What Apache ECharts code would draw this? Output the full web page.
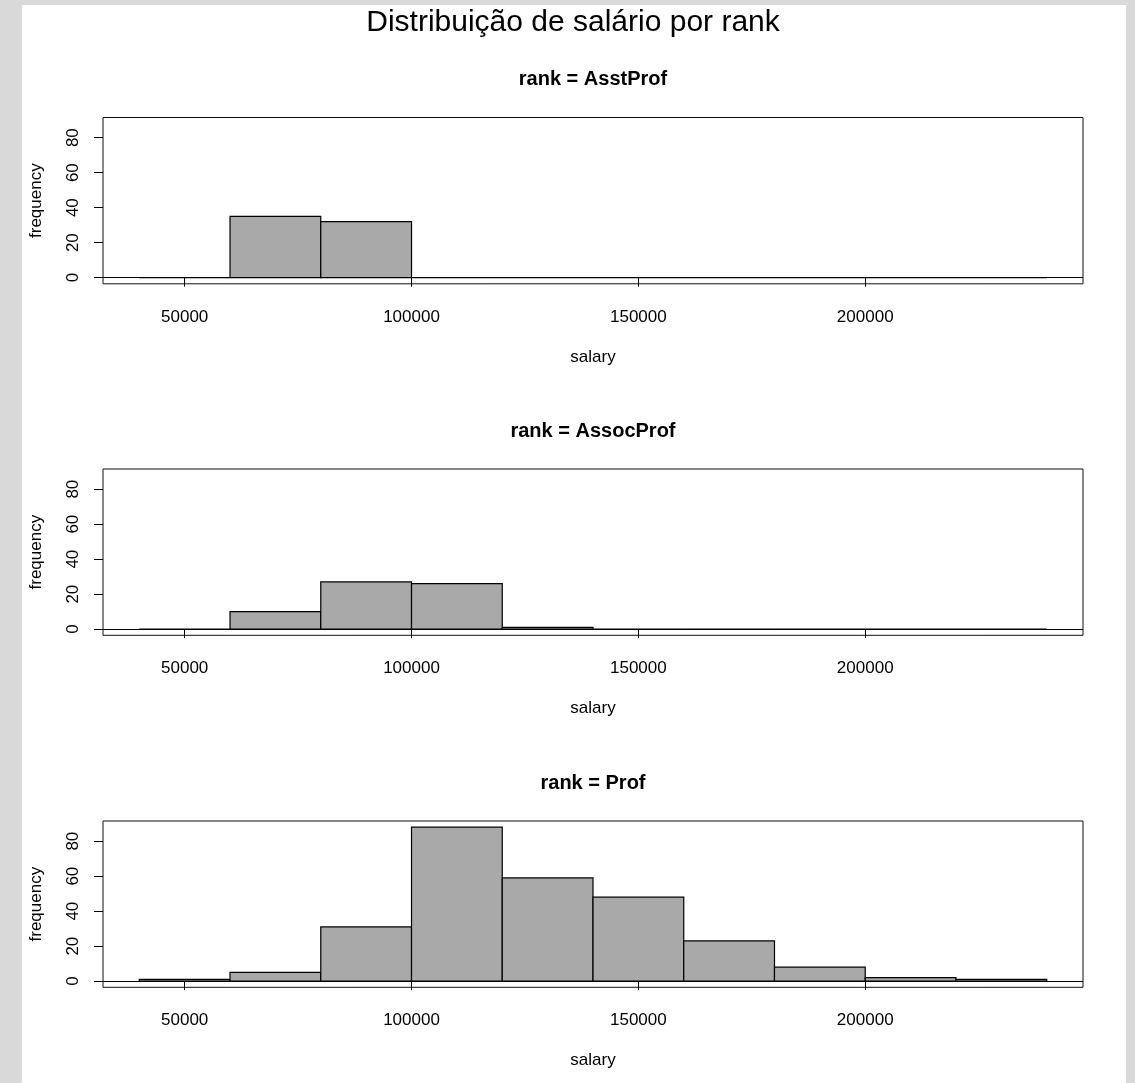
<!DOCTYPE html>
<html lang="pt">
<head>
    <meta charset="UTF-8">
    <script src="https://cdn.jsdelivr.net/npm/echarts@6/dist/echarts.min.js"></script>
    <style>
        body, html {
            margin: 0;
            height: 100%;
            background: #d9d9d9;
        }

        #sheet {
            position: absolute;
            left: 22px;
            top: 5px;
            width: 1104px;
            height: 1078px;
            background: #ffffff;
        }

        #main {
            position: absolute;
            left: 0;
            top: 0;
            width: 1135px;
            height: 1083px;
        }
    </style>
    <title>Distribuição de salário por rank</title>
</head>
<body>

<div id="sheet"></div>
<div id="main"></div>
<script type="text/javascript">
    const myChart = echarts.init(document.getElementById('main'));

    // limites das classes do histograma (salary)
    const breaks = [40000, 60000, 80000, 100000, 120000, 140000, 160000, 180000, 200000, 220000, 240000];
    // contagens por classe, uma lista por rank
    const asstProf = [0, 35, 32, 0, 0, 0, 0, 0, 0, 0];
    const assocProf = [0, 10, 27, 26, 1, 0, 0, 0, 0, 0];
    const prof = [1, 5, 31, 88, 59, 48, 23, 8, 2, 1];

    const ranks = ['AsstProf', 'AssocProf', 'Prof'];
    const counts = [asstProf, assocProf, prof];
    const xTicks = [50000, 100000, 150000, 200000];
    const yTicks = [0, 20, 40, 60, 80];

    const font = "'Liberation Sans', Arial, sans-serif";
    const gridTops = [117.5, 469, 821];
    const gridH = 166.3;

    const toBins = function (c) {
        var res = [];
        for (var i = 0; i < c.length; i++) {
            res.push([breaks[i], breaks[i + 1], c[i]]);
        }
        return res;
    };

    const grids = [], xAxes = [], yAxes = [], series = [], texts = [];

    texts.push({
        type: 'text', x: 573, y: 23,
        style: {text: 'Distribuição de salário por rank', font: '30px ' + font, fill: '#000', align: 'center', verticalAlign: 'middle'}
    });

    ranks.forEach(function (r, i) {
        grids.push({
            left: 103, width: 980, top: gridTops[i], height: gridH,
            show: true, borderColor: '#111', borderWidth: 1, backgroundColor: 'transparent'
        });
        xAxes.push({
            type: 'value', gridIndex: i, min: 32000, max: 248000,
            name: 'salary', nameLocation: 'middle', nameGap: 65,
            nameTextStyle: {color: '#000', fontSize: 17, fontFamily: font},
            splitLine: {show: false},
            axisLine: {show: false},
            axisTick: {show: true, customValues: xTicks, length: 9, lineStyle: {color: '#000'}},
            axisLabel: {
                customValues: xTicks, margin: 25, color: '#000', fontSize: 17, fontFamily: font,
                formatter: function (v) { return String(v); }
            }
        });
        yAxes.push({
            type: 'value', gridIndex: i, min: -3.52, max: 91.52,
            name: 'frequency', nameLocation: 'middle', nameGap: 58,
            nameTextStyle: {color: '#000', fontSize: 17, fontFamily: font},
            splitLine: {show: false},
            axisLine: {show: false},
            axisTick: {show: true, customValues: yTicks, length: 9, lineStyle: {color: '#000'}},
            axisLabel: {customValues: yTicks, rotate: 90, margin: 21, color: '#000', fontSize: 17, fontFamily: font}
        });
        series.push({
            type: 'custom', xAxisIndex: i, yAxisIndex: i,
            data: toBins(counts[i]),
            renderItem: function (params, api) {
                var p0 = api.coord([api.value(0), api.value(2)]);
                var p1 = api.coord([api.value(1), 0]);
                return {
                    type: 'rect',
                    shape: {x: p0[0], y: p0[1], width: p1[0] - p0[0], height: p1[1] - p0[1]},
                    style: {fill: '#a9a9a9', stroke: '#000', lineWidth: 1.2}
                };
            },
            markLine: {
                silent: true, symbol: ['none', 'none'],
                label: {show: false},
                lineStyle: {color: '#000', width: 1.2, type: 'solid'},
                data: [{yAxis: 0}]
            }
        });
        texts.push({
            type: 'text', x: 593, y: gridTops[i] - 38,
            style: {text: 'rank = ' + r, font: 'bold 20px ' + font, fill: '#000', align: 'center', verticalAlign: 'middle'}
        });
    });

    const option = {
        animation: false,
        backgroundColor: 'transparent',
        grid: grids,
        xAxis: xAxes,
        yAxis: yAxes,
        series: series,
        graphic: texts
    };
    myChart.setOption(option);
</script>
</body>
</html>
